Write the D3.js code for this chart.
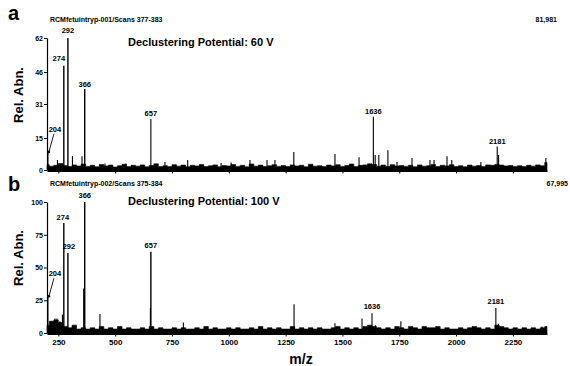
<!DOCTYPE html>
<html>
<head>
<meta charset="utf-8">
<script src="https://cdn.jsdelivr.net/npm/d3@7"></script>
<style>
  body { margin: 0; background: #fff; }
  svg { display: block; font-family: "Liberation Sans", Arial, sans-serif; font-weight: bold; }
</style>
</head>
<body>
<figure id="spectra" style="margin:0"></figure>
<script>
// x axis (m/z)
const mzDomain = [200, 2400];
const mzTicks = [250, 500, 750, 1000, 1250, 1500, 1750, 2000, 2250];

// panel a: declustering potential 60 V
const yTicksA = [0, 15, 31, 46, 62];
const peakMzA = [204, 246, 274, 292, 312, 354, 366, 455, 547, 657, 719, 819, 966, 1010, 1093, 1168, 1203, 1286, 1467, 1573, 1636, 1644, 1660, 1700, 1740, 1806, 1885, 1903, 1960, 1981, 2109, 2181, 2187, 2395];
const peakIntA = [8.5, 4.7, 49, 62, 6.5, 6.5, 38, 3, 3, 24, 3.7, 4.7, 3.3, 3.5, 4.7, 4.7, 4.7, 8.4, 7.5, 6, 25, 7, 7, 9.3, 3.7, 5.6, 4.7, 4.7, 6.5, 4.7, 3.7, 11, 7, 5.6];
const labelsA = [204, 274, 292, 366, 657, 1636, 2181];
const noiseA = [
  2.5, 1.8, 2.2, 3.0, 2.1, 1.6, 2.4, 1.9, 2.8, 1.7,
  2.2, 1.5, 2.6, 1.9, 2.3, 1.4, 2.0, 2.7, 1.6, 2.2,
  1.8, 2.4, 1.5, 2.1, 2.9, 1.7, 2.0, 1.6, 2.5, 1.8,
  2.3, 1.5, 2.2, 1.9, 2.6, 1.6, 2.0, 2.4, 1.5, 2.1,
  1.9, 2.6, 1.7, 2.2, 1.5, 2.8, 1.8, 2.3, 1.6, 2.0,
  2.5, 1.7, 2.1, 1.6, 2.4, 1.9, 2.2, 1.5, 2.7, 1.8,
  2.0, 1.6, 2.3, 1.9, 2.5, 1.7, 2.1, 2.8, 1.6, 2.2,
  2.4, 2.9, 2.6, 1.8, 2.3, 1.6, 2.5, 1.9, 2.1, 1.7,
  2.2, 1.5, 2.4, 1.8, 2.0, 2.6, 1.6, 2.2, 1.9, 2.5,
  1.7, 2.0, 1.5, 2.3, 1.8, 2.1, 1.6, 2.4, 2.2, 2.6,
  2.3, 1.9, 2.1, 1.7, 2.0, 1.6, 2.2, 1.8, 2.4, 2.0,
  3.5
];

// panel b: declustering potential 100 V
const yTicksB = [0, 25, 50, 75, 100];
const peakMzB = [204, 222, 235, 244, 257, 268, 274, 292, 362, 366, 433, 655, 657, 800, 1287, 1467, 1586, 1630, 1645, 1757, 2175, 2186, 2378];
const peakIntB = [28, 9, 11, 11, 9, 14, 84, 61, 34, 100, 14.5, 19, 62, 8, 22, 7.5, 11, 15, 6, 9, 19, 7, 5];
const labelsB = [204, 274, 292, 366, 657, 1636, 2181];
const noiseB = [
  6, 9, 10, 8, 5, 4, 6, 3, 4, 3,
  4, 3, 5, 3, 4, 3, 5, 3, 4, 3,
  3, 4, 3, 5, 3, 4, 3, 3, 4, 3,
  4, 3, 3, 4, 3, 5, 3, 4, 3, 3,
  4, 3, 4, 3, 3, 4, 3, 5, 3, 4,
  3, 4, 3, 3, 5, 3, 4, 3, 4, 3,
  4, 3, 3, 4, 5, 3, 4, 3, 4, 3,
  5, 6, 5, 4, 3, 4, 3, 5, 4, 3,
  5, 4, 3, 5, 4, 4, 5, 3, 4, 3,
  3, 4, 3, 4, 5, 4, 3, 4, 3, 6,
  5, 4, 3, 4, 3, 4, 3, 4, 3, 4,
  5
];

const W = 570, H = 366;
const svg = d3.select("#spectra").append("svg")
  .attr("width", W).attr("height", H);
svg.append("rect").attr("width", W).attr("height", H).attr("fill", "#fff");

const x = d3.scaleLinear().domain(mzDomain).range([47, 547]);

function drawPanel(opt) {
  const y = d3.scaleLinear().domain([0, opt.yTicks[opt.yTicks.length - 1]]).range([opt.bottom, opt.top]);
  const g = svg.append("g");

  // baseline noise as a ragged filled band
  const noisePts = opt.noise.map((v, i) => [mzDomain[0] + i * 20, v]);
  g.append("path")
    .datum(noisePts)
    .attr("d", d3.area().curve(d3.curveStep).x(d => x(d[0])).y0(y(0)).y1(d => y(d[1])))
    .attr("fill", "#000")
    .attr("stroke", "#000")
    .attr("stroke-width", 0.6);

  // peaks as sticks
  const peaks = opt.mz.map((m, i) => ({mz: m, v: opt.int[i]}));
  g.selectAll("line.peak")
    .data(peaks)
    .enter().append("line")
    .attr("class", "peak")
    .attr("x1", d => x(d.mz)).attr("x2", d => x(d.mz))
    .attr("y1", y(0)).attr("y2", d => y(d.v))
    .attr("stroke", "#000")
    .attr("stroke-width", d => d.v > 30 ? 1.4 : 1.1);

  // peak labels
  const byMz = {};
  peaks.forEach(p => { byMz[p.mz] = p; });
  opt.labels.forEach(m => {
    const p = byMz[m] || peaks.find(q => Math.abs(q.mz - m) < 8);
    const off = opt.labelOffsets[m] || [0, -4];
    if (m === 204) {
      // label sits up and right, with a leader line to the peak
      const lx = x(p.mz) + 7, ly = y(p.v) - 20;
      g.append("line")
        .attr("x1", lx - 1).attr("y1", ly + 2)
        .attr("x2", x(p.mz) + 1).attr("y2", y(p.v))
        .attr("stroke", "#000").attr("stroke-width", 0.9);
      g.append("circle")
        .attr("cx", x(p.mz) + 1).attr("cy", y(p.v))
        .attr("r", 1.3).attr("fill", "#000");
      g.append("text")
        .attr("x", lx).attr("y", ly)
        .attr("text-anchor", "middle")
        .attr("font-size", "7.5px")
        .text(m);
      return;
    }
    g.append("text")
      .attr("x", x(p.mz) + off[0])
      .attr("y", y(p.v) + off[1])
      .attr("text-anchor", "middle")
      .attr("font-size", "7.5px")
      .text(m);
  });

  // y axis
  const ya = g.append("g")
    .attr("transform", "translate(47,0)")
    .call(d3.axisLeft(y).tickValues(opt.yTicks).tickSize(3).tickSizeOuter(0).tickPadding(1));
  ya.selectAll("text").attr("font-size", "7px").attr("font-weight", "bold").attr("font-family", "Liberation Sans, Arial");
  ya.select(".domain").attr("stroke-width", 1.2);

  // x axis
  const xa = g.append("g")
    .attr("transform", "translate(0," + (opt.bottom + 0.5) + ")")
    .call(d3.axisBottom(x).tickValues(mzTicks).tickSize(3).tickSizeOuter(0).tickPadding(3)
      .tickFormat(opt.showX ? d3.format("d") : ""));
  xa.select(".domain").attr("stroke-width", 2);
  xa.selectAll("text").attr("font-size", "8px").attr("font-weight", "bold").attr("font-family", "Liberation Sans, Arial");

  // texts
  svg.append("text").attr("x", 8).attr("y", opt.letterY)
    .attr("font-size", "20px").text(opt.letter);
  svg.append("text").attr("x", 50).attr("y", opt.headY)
    .attr("font-size", "7px").text(opt.head);
  svg.append("text").attr("x", opt.totalX).attr("y", opt.headY)
    .attr("text-anchor", "end").attr("font-size", "7px").text(opt.total);
  svg.append("text").attr("x", 128).attr("y", opt.dpY)
    .attr("font-size", "11px").text(opt.dp);
  svg.append("text")
    .attr("transform", "translate(23," + opt.ylabY + ") rotate(-90)")
    .attr("text-anchor", "middle")
    .attr("font-size", "13px")
    .text("Rel. Abn.");
}

drawPanel({
  top: 38, bottom: 170, yTicks: yTicksA, mz: peakMzA, int: peakIntA,
  labels: labelsA, noise: noiseA, showX: false,
  labelOffsets: {274: [-5, -5], 292: [0, -5], 366: [0, -2], 657: [0, -3], 1636: [0, -3], 2181: [0, -3]},
  letter: "a", letterY: 20, head: "RCMfetuintryp-001/Scans 377-383", headY: 22,
  total: "81,981", totalX: 557, dp: "Declustering Potential: 60 V", dpY: 46, ylabY: 95
});

drawPanel({
  top: 202, bottom: 333, yTicks: yTicksB, mz: peakMzB, int: peakIntB,
  labels: labelsB, noise: noiseB, showX: true,
  labelOffsets: {274: [-1, -3], 292: [1, -4], 366: [0, -4], 657: [0, -4], 1636: [0, -4], 2181: [0, -4]},
  letter: "b", letterY: 191, head: "RCMfetuintryp-002/Scans 375-384", headY: 186,
  total: "67,995", totalX: 568, dp: "Declustering Potential: 100 V", dpY: 205, ylabY: 258
});

svg.append("text").attr("x", 301).attr("y", 364)
  .attr("text-anchor", "middle").attr("font-size", "14px").text("m/z");
</script>
</body>
</html>
